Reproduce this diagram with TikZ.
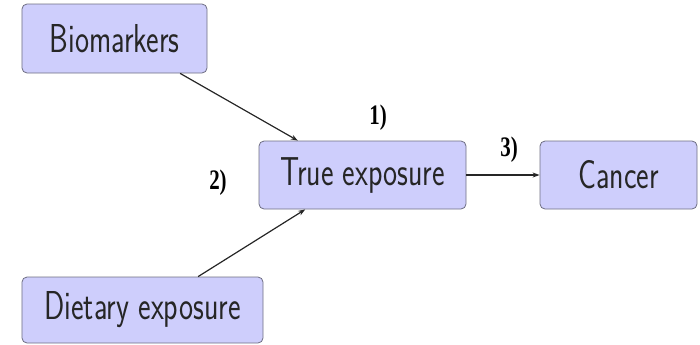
\documentclass[tikz,border=0pt]{standalone}
\usepackage{fontspec}
\usepackage{graphicx}
\usetikzlibrary{arrows.meta}
\newfontfamily\rotulofont{Liberation Serif}
\definecolor{caixa}{RGB}{206,206,252}
\definecolor{borda}{RGB}{110,110,130}
\newcommand{\alto}[1]{\scalebox{1}[1.35]{#1}}

\begin{document}
\begin{tikzpicture}[x=1bp, y=-1bp,
    every node/.style={font=\sffamily\fontsize{30}{34}\selectfont},
    caixa/.style={rectangle, rounded corners=5bp, draw=borda, fill=caixa, line width=0.8bp, text=black!85, inner sep=0pt},
    rotulo/.style={font=\rotulofont\bfseries\fontsize{21}{26}\selectfont, inner sep=0pt},
    seta/.style={-{Stealth[length=7bp, width=5bp]}, line width=1.2bp, draw=black!85}]
    \useasboundingbox (0,0) rectangle (700,344);
    % Posicionar as caixas
    \node[caixa, minimum width=185bp, minimum height=69bp] (bio) at (114.5, 38.5) {\alto{Biomarkers}};
    \node[caixa, minimum width=207bp, minimum height=68bp] (true) at (362.5, 175) {\alto{True exposure}};
    \node[caixa, minimum width=157bp, minimum height=68bp] (cancer) at (618.5, 175) {\alto{Cancer}};
    \node[caixa, minimum width=241bp, minimum height=66bp] (diet) at (142.5, 310) {\alto{Dietary exposure}};

    % Rotulos
    \node[rotulo] (r1) at (378, 118) {\alto{1)}};
    \node[rotulo] (r2) at (218, 183) {\alto{2)}};

    % Desenhar as setas
    \draw[seta] (bio.-28) -- (true.152);
    \draw[seta] (diet.31) -- (true.211);
    \draw[seta, line width=1.8bp] (true.east) -- (cancer.west) node[rotulo, midway, above=12bp, xshift=6bp] {\alto{3)}};
\end{tikzpicture}
\end{document}
